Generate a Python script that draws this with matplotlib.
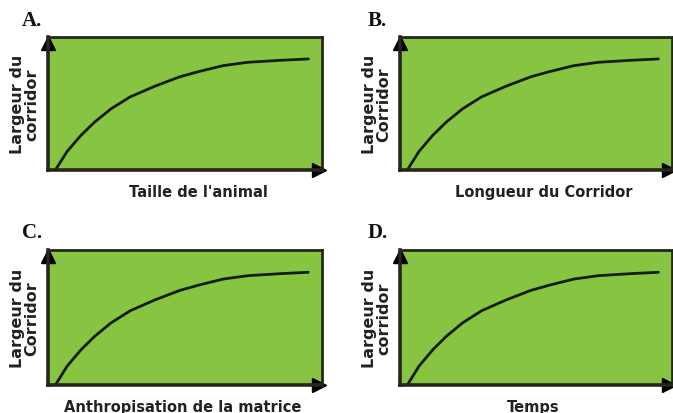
import matplotlib
matplotlib.use('Agg')
import matplotlib.pyplot as plt

# panel data (normalised: 0..1 on both axes)
panel_letters = ["A.", "B.", "C.", "D."]
y_labels = ["Largeur du\ncorridor", "Largeur du\nCorridor", "Largeur du\nCorridor", "Largeur du\ncorridor"]
x_labels = ["Taille de l'animal", "Longueur du Corridor", "Anthropisation de la matrice", "Temps"]
curve_x = [0.03, 0.07, 0.12, 0.17, 0.23, 0.30, 0.39, 0.48, 0.55, 0.64, 0.73, 0.85, 0.95]
curve_y = [0.01, 0.14, 0.26, 0.36, 0.46, 0.55, 0.63, 0.70, 0.74, 0.785, 0.81, 0.825, 0.835]

GREEN = '#87c442'
DARK = '#26261a'

W, H = 673, 414
fig = plt.figure(figsize=(W / 100, H / 100), dpi=100)

# box positions in pixels: left, top, right, bottom
boxes = [(48, 38, 322, 171), (400, 38, 672, 171), (48, 251, 322, 386), (400, 251, 672, 386)]
xlab_pos = [0.55, 0.53, 0.49, 0.49]

for i, (l, t, r, b) in enumerate(boxes):
    ax = fig.add_axes([l / W, 1 - b / H, (r - l) / W, (b - t) / H])
    ax.set_facecolor(GREEN)
    ax.set_xlim(0, 1)
    ax.set_ylim(0, 1)
    ax.set_xticks([])
    ax.set_yticks([])
    for s in ax.spines.values():
        s.set_color(DARK)
        s.set_linewidth(2.0)
    ax.spines['left'].set_linewidth(2.6)
    ax.spines['bottom'].set_linewidth(2.6)

    ax.plot(curve_x, curve_y, color='#141c0a', lw=2.0, solid_capstyle='round')

    # axis arrows
    ax.plot([0.0], [0.955], marker='^', ms=10, color='black', clip_on=False)
    ax.plot([0.99], [0.0], marker='>', ms=10, color='black', clip_on=False)

    ax.text(-0.085, 0.5, y_labels[i], transform=ax.transAxes, rotation=90,
            ha='center', va='center', fontsize=11.5, fontweight='bold',
            family='DejaVu Sans', color='#222222', linespacing=0.9)
    ax.text(xlab_pos[i], -0.16, x_labels[i], transform=ax.transAxes,
            ha='center', va='center', fontsize=10.5, fontweight='bold',
            family='DejaVu Sans', color='#222222')
    ax.text(-0.095 if i % 2 == 0 else -0.12, 1.13, panel_letters[i],
            transform=ax.transAxes, ha='left', va='center', fontsize=15,
            fontweight='bold', family='Liberation Serif', color='#111111')

fig.savefig('out.png', dpi=100, facecolor='white')
